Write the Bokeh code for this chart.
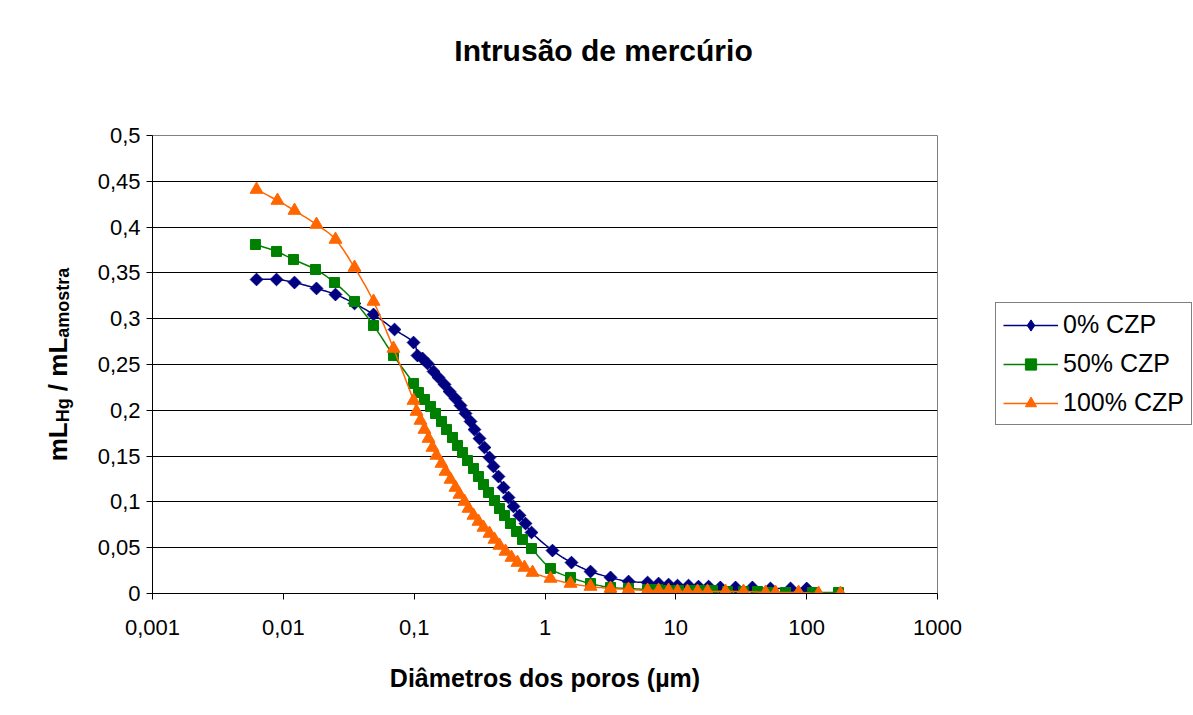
import numpy as np
from bokeh.plotting import figure
from bokeh.models import (FixedTicker, CustomJSTickFormatter, Label, Legend,
                          LegendItem, Range1d)
from bokeh.embed import file_html
from bokeh.resources import INLINE

# ---------------- data (diameter in µm, mL_Hg / mL_amostra) ----------------
czp0_x = [0.00624, 0.00887, 0.01217, 0.01793, 0.02505, 0.0350, 0.0489, 0.0708,
          0.0989, 0.1060, 0.1158, 0.1265, 0.1406, 0.1535, 0.1706, 0.1863,
          0.2070, 0.2261, 0.2469, 0.2697, 0.2891, 0.3157, 0.3449, 0.3767,
          0.4037, 0.4412, 0.4819, 0.5262, 0.5746, 0.6384, 0.7095, 0.7885,
          1.141, 1.594, 2.228, 3.168, 4.350, 6.08, 7.38, 8.80, 10.3, 12.5,
          14.9, 17.8, 21.9, 28.6, 38.5, 52.9, 75.3, 100.0]
czp0_y = [0.3428, 0.3428, 0.3395, 0.3330, 0.3264, 0.3166, 0.3046, 0.2882,
          0.2740, 0.2598, 0.2566, 0.2511, 0.2424, 0.2358, 0.2282, 0.2205,
          0.2129, 0.2052, 0.1965, 0.1878, 0.1790, 0.1692, 0.1594, 0.1485,
          0.1387, 0.1277, 0.1157, 0.1048, 0.0950, 0.0852, 0.0764, 0.0666,
          0.0469, 0.0338, 0.0240, 0.0175, 0.0131, 0.0120, 0.0109, 0.0098,
          0.0087, 0.0087, 0.0076, 0.0076, 0.0066, 0.0066, 0.0066, 0.0055,
          0.0055, 0.0055]

czp50_x = [0.00612, 0.00887, 0.01196, 0.01762, 0.0246, 0.0350, 0.0489, 0.0695,
           0.0989, 0.1079, 0.1199, 0.1334, 0.1456, 0.1618, 0.1767, 0.1963,
           0.2143, 0.2340, 0.2556, 0.2841, 0.3102, 0.3388, 0.3700, 0.4112,
           0.4490, 0.4903, 0.5448, 0.6054, 0.6729, 0.7885, 1.102, 1.567,
           2.228, 3.168, 4.350, 6.08, 7.25, 8.63, 10.48, 12.94, 15.44, 19.07,
           24.8, 32.9, 42.1, 52.9, 68.9, 111.0, 175.0]
czp50_y = [0.3810, 0.3734, 0.3646, 0.3537, 0.3395, 0.3188, 0.2926, 0.2598,
           0.2293, 0.2194, 0.2118, 0.2041, 0.1965, 0.1878, 0.1790, 0.1703,
           0.1616, 0.1539, 0.1452, 0.1365, 0.1277, 0.1190, 0.1103, 0.1015,
           0.0928, 0.0852, 0.0764, 0.0677, 0.0590, 0.0491, 0.0273, 0.0175,
           0.0109, 0.0066, 0.0055, 0.0044, 0.0044, 0.0033, 0.0033, 0.0033,
           0.0033, 0.0033, 0.0022, 0.0022, 0.0022, 0.0011, 0.0011, 0.0011,
           0.0011]

czp100_x = [0.00624, 0.00902, 0.01217, 0.01793, 0.02505, 0.0350, 0.0489,
            0.0695, 0.0989, 0.1042, 0.1117, 0.1199, 0.1288, 0.1381, 0.1482,
            0.1618, 0.1737, 0.1897, 0.2070, 0.2222, 0.2426, 0.2603, 0.2841,
            0.3102, 0.3388, 0.3767, 0.4112, 0.4490, 0.4990, 0.5546, 0.6165,
            0.6966, 0.8028, 1.102, 1.567, 2.228, 3.168, 4.350, 6.08, 7.38,
            8.80, 10.3, 12.28, 14.65, 17.46, 23.99, 32.9, 48.5, 57.8, 86.7,
            123.3, 181.4]
czp100_y = [0.4410, 0.4290, 0.4181, 0.4028, 0.3865, 0.3559, 0.3188, 0.2675,
            0.2107, 0.1987, 0.1889, 0.1790, 0.1692, 0.1594, 0.1507, 0.1419,
            0.1332, 0.1245, 0.1157, 0.1081, 0.1004, 0.0928, 0.0852, 0.0786,
            0.0721, 0.0655, 0.0590, 0.0524, 0.0459, 0.0393, 0.0338, 0.0284,
            0.0229, 0.0164, 0.0109, 0.0076, 0.0055, 0.0044, 0.0033, 0.0033,
            0.0033, 0.0022, 0.0022, 0.0022, 0.0022, 0.0022, 0.0022, 0.0011,
            0.0011, 0.0011, 0.0, 0.0]

series_names = ["0% CZP", "50% CZP", "100% CZP"]
y_ticks = [0, 0.05, 0.1, 0.15, 0.2, 0.25, 0.3, 0.35, 0.4, 0.45, 0.5]
x_ticks = [0.001, 0.01, 0.1, 1, 10, 100, 1000]

FONT = "Liberation Sans"


def smooth(xs, ys, n=10):
    """Catmull-Rom smoothing (like Excel's smoothed line) in log-x space."""
    lx = np.log10(np.asarray(xs, float))
    y = np.asarray(ys, float)
    P = np.column_stack([lx, y])
    P = np.vstack([P[0], P, P[-1]])
    out = []
    t = np.linspace(0, 1, n, endpoint=False)[:, None]
    for i in range(1, len(P) - 2):
        p0, p1, p2, p3 = P[i - 1], P[i], P[i + 1], P[i + 2]
        seg = 0.5 * (2 * p1 + (-p0 + p2) * t + (2 * p0 - 5 * p1 + 4 * p2 - p3) * t ** 2
                     + (-p0 + 3 * p1 - 3 * p2 + p3) * t ** 3)
        out.append(seg)
    out.append(P[-2][None, :])
    S = np.vstack(out)
    return 10 ** S[:, 0], S[:, 1]


p = figure(x_axis_type="log", x_range=Range1d(0.001, 1000), y_range=Range1d(0, 0.5),
           frame_width=785, frame_height=458,
           min_border_left=152, min_border_right=250, min_border_top=135,
           min_border_bottom=118, output_backend="svg", toolbar_location=None,
           background_fill_color="white", border_fill_color="white")
p.title.visible = False

p.outline_line_color = "#808080"
p.outline_line_width = 1
p.xgrid.grid_line_color = None
p.ygrid.grid_line_color = "#000000"
p.ygrid.grid_line_width = 1

fmt = CustomJSTickFormatter(code="""
    var s = parseFloat(tick.toPrecision(6)).toString();
    return s.replace('.', ',');
""")

p.xaxis.ticker = FixedTicker(ticks=x_ticks)
p.yaxis.ticker = FixedTicker(ticks=y_ticks)
for ax in (p.xaxis[0], p.yaxis[0]):
    ax.formatter = fmt
    ax.major_label_text_font = FONT
    ax.major_label_text_font_size = "22px"
    ax.major_label_text_color = "black"
    ax.axis_line_color = "black"
    ax.major_tick_line_color = "black"
    ax.major_tick_out = 6
    ax.major_tick_in = 0
    ax.minor_tick_line_color = None
p.xaxis.major_label_standoff = 20
p.yaxis.major_label_standoff = 6

p.xaxis.axis_label = "Diâmetros dos poros (µm)"
p.xaxis.axis_label_text_font = FONT
p.xaxis.axis_label_text_font_size = "25px"
p.xaxis.axis_label_text_font_style = "bold"
p.xaxis.axis_label_text_color = "black"
p.xaxis.axis_label_standoff = 26

colors = ["#000080", "#008000", "#FF6600"]
data = [(czp0_x, czp0_y), (czp50_x, czp50_y), (czp100_x, czp100_y)]
items = []
for (xs, ys), c, name, mk in zip(data, colors, series_names,
                                 ["diamond", "square", "triangle"]):
    sx, sy = smooth(xs, ys)
    r_line = p.line(sx, sy, line_color=c, line_width=1.5)
    if mk == "diamond":
        r_pts = p.scatter(xs, ys, marker="square", angle=np.pi / 4, size=9,
                          fill_color=c, line_color=c)
        # same points, zero size: only used to draw a diamond in the legend
        r_leg = p.scatter(xs, ys, marker="diamond", size=0,
                          fill_color=c, line_color=c)
        rs = [r_line, r_leg]
    elif mk == "square":
        r_pts = p.scatter(xs, ys, marker="square", size=10, fill_color=c, line_color=c)
        rs = [r_line, r_pts]
    else:
        r_pts = p.scatter(xs, ys, marker="triangle", size=13, fill_color=c, line_color=c)
        rs = [r_line, r_pts]
    items.append(LegendItem(label=name, renderers=rs))

legend = Legend(items=items, location=(58, 168), orientation="vertical",
                label_text_font=FONT, label_text_font_size="25px",
                label_text_color="black", glyph_width=55, glyph_height=28,
                label_height=29, spacing=10, padding=7, margin=0,
                border_line_color="black", border_line_width=1,
                background_fill_color="white", background_fill_alpha=1,
                label_standoff=5)
p.add_layout(legend, "right")

# chart title (canvas units, top-left origin)
p.add_layout(Label(x=603, y=50, x_units="canvas", y_units="canvas",
                   text="Intrusão de mercúrio", text_font=FONT,
                   text_font_size="30px", text_font_style="bold",
                   text_align="center", text_baseline="middle",
                   text_color="black"), "above")

# y axis title with subscripts, rotated (canvas units)
BIG, SMALL = 26, 18
segs = [("mL", BIG, 0, "left"), ("Hg", SMALL, 5, "left"),
        ("\u00a0/\u00a0mL", BIG, 0, "left"), ("amostra", SMALL, 5, "above")]
widths = {"mL": 1.5, "Hg": 1.333, "\u00a0/\u00a0mL": 2.334, "amostra": 3.89}
total = sum(widths[s] * fs for s, fs, _, _ in segs)
ypos = 364 + total / 2
for s, fs, off, side in segs:
    p.add_layout(Label(x=57 + off, y=ypos, x_units="canvas", y_units="canvas",
                       text=s, angle=np.pi / 2, text_font=FONT,
                       text_font_size=f"{fs}px", text_font_style="bold",
                       text_align="left", text_baseline="alphabetic",
                       text_color="black"), side)
    ypos -= widths[s] * fs

open("out.html", "w").write(file_html(p, INLINE))
